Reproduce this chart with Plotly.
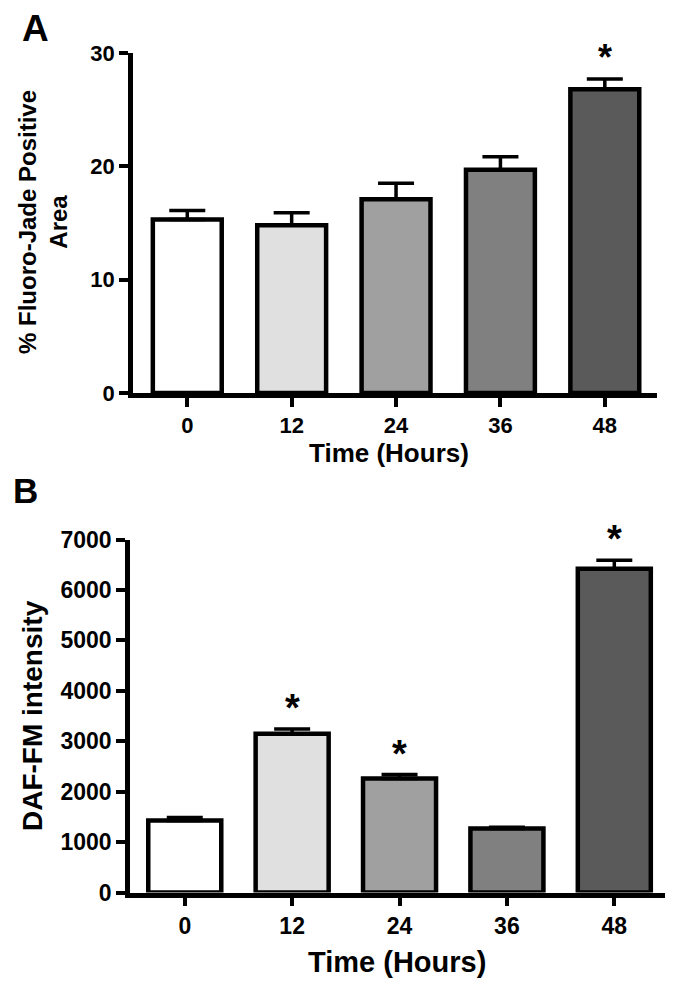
import plotly.graph_objects as go

# ---- data ----
hours = ["0", "12", "24", "36", "48"]
bar_colors = ["#ffffff", "#e0e0e0", "#a0a0a0", "#808080", "#5a5a5a"]

fj_mean = [15.3, 14.8, 17.1, 19.7, 26.8]
fj_sem = [0.8, 1.1, 1.4, 1.15, 0.9]
fj_sig = [False, False, False, False, True]

daf_mean = [1430, 3150, 2260, 1270, 6420]
daf_sem = [55, 90, 80, 25, 170]
daf_sig = [False, True, True, False, True]

FONT = "Liberation Sans, Arial, sans-serif"
PAGE_W, PAGE_H = 673, 985
OFF = 8  # default page body margin
W, H = PAGE_W - OFF, PAGE_H - OFF


def px(x):
    return (x - OFF) / W


def py(y):
    return 1 - (y - OFF) / H


fig = go.Figure()
idx = list(range(len(hours)))

fig.add_trace(go.Bar(
    x=idx, y=fj_mean, width=0.66,
    marker=dict(color=bar_colors, line=dict(color="black", width=4.5)),
    error_y=dict(type="data", symmetric=False, array=fj_sem,
                 arrayminus=[0] * len(fj_sem), color="black",
                 thickness=3.5, width=18),
    xaxis="x", yaxis="y", showlegend=False,
))
fig.add_trace(go.Bar(
    x=idx, y=daf_mean, width=0.68,
    marker=dict(color=bar_colors, line=dict(color="black", width=4.5)),
    error_y=dict(type="data", symmetric=False, array=daf_sem,
                 arrayminus=[0] * len(daf_sem), color="black",
                 thickness=3.5, width=18),
    xaxis="x2", yaxis="y2", showlegend=False,
))

axis_common = dict(
    showline=True, linecolor="black", linewidth=4.5,
    ticks="outside", tickcolor="black", tickwidth=4, ticklen=9,
    showgrid=False, zeroline=False, fixedrange=True, automargin=False,
)

fig.update_layout(
    template="none",
    width=W, height=H,
    margin=dict(l=0, r=0, t=0, b=0, pad=0, autoexpand=False),
    paper_bgcolor="white", plot_bgcolor="white",
    font=dict(family=FONT, color="black", weight="bold"),
    xaxis=dict(domain=[px(133), px(657)], anchor="y", range=[-0.52, 4.5],
               tickmode="array", tickvals=idx, ticktext=hours,
               tickfont=dict(size=22, family=FONT, weight="bold"),
               **axis_common),
    yaxis=dict(domain=[py(393), py(53)], anchor="x", range=[0, 30],
               tickmode="array", tickvals=[0, 10, 20, 30],
               tickfont=dict(size=22, family=FONT, weight="bold"),
               **axis_common),
    xaxis2=dict(domain=[px(130), px(668)], anchor="y2", range=[-0.51, 4.5],
                tickmode="array", tickvals=idx, ticktext=hours,
                tickfont=dict(size=23, family=FONT, weight="bold"),
                **axis_common),
    yaxis2=dict(domain=[py(892.5), py(539.5)], anchor="x2", range=[0, 7000],
                tickmode="array", tickvals=list(range(0, 7001, 1000)),
                tickfont=dict(size=23, family=FONT, weight="bold"),
                **axis_common),
)


def label(text, x, y, size, angle=0):
    return dict(text=text, x=px(x), y=py(y), xref="paper", yref="paper",
                xanchor="center", yanchor="middle", textangle=angle,
                showarrow=False, font=dict(size=size, family=FONT, weight="bold"))


ann = [
    label("A", 35, 28, 37),
    label("B", 25, 491, 35),
    label("Time (Hours)", 389, 453, 26),
    label("Time (Hours)", 397, 962, 29),
    label("% Fluoro-Jade Positive<br>Area", 43, 222, 24, angle=-90),
    label("DAF-FM intensity", 32, 716, 28, angle=-90),
]
for i, (m, s, sig) in enumerate(zip(fj_mean, fj_sem, fj_sig)):
    if sig:
        ann.append(dict(text="*", x=i, y=m + s, xref="x", yref="y", showarrow=False,
                        xanchor="center", yanchor="bottom", yshift=-1,
                        font=dict(size=36, family=FONT, weight="bold")))
for i, (m, s, sig) in enumerate(zip(daf_mean, daf_sem, daf_sig)):
    if sig:
        ann.append(dict(text="*", x=i, y=m + s, xref="x2", yref="y2", showarrow=False,
                        xanchor="center", yanchor="bottom", yshift=-2,
                        font=dict(size=38, family=FONT, weight="bold")))
fig.update_layout(annotations=ann)

fig.write_html("out.html")
